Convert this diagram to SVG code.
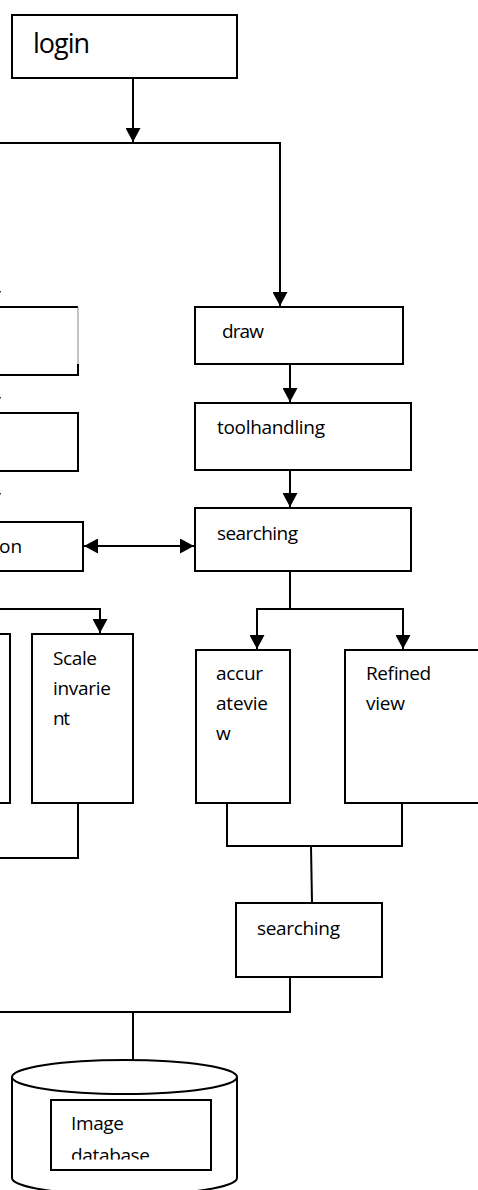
<svg xmlns="http://www.w3.org/2000/svg" width="478" height="1190" viewBox="0 0 478 1190">
<style>
.box{fill:#fff;stroke:#000;stroke-width:2}
.ln{fill:none;stroke:#000;stroke-width:2}
.t{font-family:"Open Sans","Liberation Sans",sans-serif;font-size:19px;fill:#000}
.big{font-size:27px}
</style>
<defs>
<marker id="ah" markerUnits="userSpaceOnUse" markerWidth="15" markerHeight="15" refX="14" refY="7.5" orient="auto-start-reverse" viewBox="0 0 15 15">
<path d="M0,0 L14,7.5 L0,15 z" fill="#000"/>
</marker>
<clipPath id="dbclip"><rect x="0" y="1100" width="478" height="59.5"/></clipPath>
</defs>
<rect width="478" height="1190" fill="#fff"/>

<g id="connectors">
<path class="ln" d="M133,78 V142" marker-end="url(#ah)"/>
<path class="ln" d="M0,143 H280 V306" marker-end="url(#ah)"/>
<path class="ln" d="M290,364 V402" marker-end="url(#ah)"/>
<path class="ln" d="M290,470 V507" marker-end="url(#ah)"/>
<path class="ln" d="M84,546 H194" marker-start="url(#ah)" marker-end="url(#ah)"/>
<path class="ln" d="M0,609 H100 V633" marker-end="url(#ah)"/>
<path class="ln" d="M290,571 V609"/>
<path class="ln" d="M290,609 H257 V649" marker-end="url(#ah)"/>
<path class="ln" d="M290,609 H403 V649" marker-end="url(#ah)"/>
<path class="ln" d="M78,803 V858 H0"/>
<path class="ln" d="M227,803 V846 H402 V803"/>
<path class="ln" d="M311,846 L312,903"/>
<path class="ln" d="M290,977 V1012 H0"/>
<path class="ln" d="M133,1012 V1060"/>
<path d="M-11,291 L1,291 L-5,305 z" fill="#000"/>
<path d="M-11,397 L1,397 L-5,411 z" fill="#000"/>
<path d="M-11,493 L1,493 L-5,507 z" fill="#000"/>
</g>

<g id="login"><rect class="box" x="12" y="15" width="225" height="63"/><text class="t big" x="33" y="53" textLength="57">login</text></g>

<g id="left-box-1">
<path d="M-5,307 H78" stroke="#000" stroke-width="2" fill="none"/>
<path d="M78,307 V366" stroke="#888" stroke-width="1" fill="none"/>
<path d="M-5,375 H78 V364" stroke="#000" stroke-width="2" fill="none"/>
</g>
<g id="left-box-2"><rect class="box" x="-10" y="413" width="88" height="58"/></g>
<g id="left-box-3"><rect class="box" x="-10" y="522" width="93" height="49"/><text class="t" x="-1" y="553">on</text></g>

<g id="draw"><rect class="box" x="195" y="307" width="208" height="57"/><text class="t" x="222" y="338" textLength="42">draw</text></g>
<g id="toolhandling"><rect class="box" x="195" y="403" width="216" height="67"/><text class="t" x="217" y="434" textLength="108">toolhandling</text></g>
<g id="searching"><rect class="box" x="195" y="508" width="216" height="63"/><text class="t" x="217" y="540" textLength="81">searching</text></g>

<g id="left-partial-box"><rect class="box" x="-10" y="634" width="20" height="169"/></g>
<g id="scale-invariant"><rect class="box" x="32" y="634" width="101" height="169"/>
<text class="t" x="53" y="665" textLength="44">Scale</text>
<text class="t" x="53" y="695" textLength="58">invarie</text>
<text class="t" x="53" y="725" textLength="17">nt</text></g>

<g id="accurateview"><rect class="box" x="196" y="650" width="94" height="153"/>
<text class="t" x="216" y="680" textLength="47">accur</text>
<text class="t" x="216" y="710" textLength="52">atevie</text>
<text class="t" x="216" y="740" textLength="15">w</text></g>

<g id="refined-view"><rect class="box" x="345" y="650" width="145" height="153"/>
<text class="t" x="366" y="680" textLength="65">Refined</text>
<text class="t" x="366" y="710" textLength="39">view</text></g>

<g id="searching-2"><rect class="box" x="236" y="903" width="146" height="74"/><text class="t" x="257" y="935" textLength="83">searching</text></g>

<g id="image-database">
<path class="box" d="M12,1077 V1178 A112.5,17 0 0 0 237,1178 V1077"/>
<ellipse class="box" cx="124.5" cy="1077" rx="112.5" ry="17"/>
<rect class="box" x="51" y="1100" width="160" height="70"/>
<text class="t" x="71" y="1130" textLength="53">Image</text>
<text class="t" x="71" y="1162" textLength="79" clip-path="url(#dbclip)">database</text>
</g>
</svg>
